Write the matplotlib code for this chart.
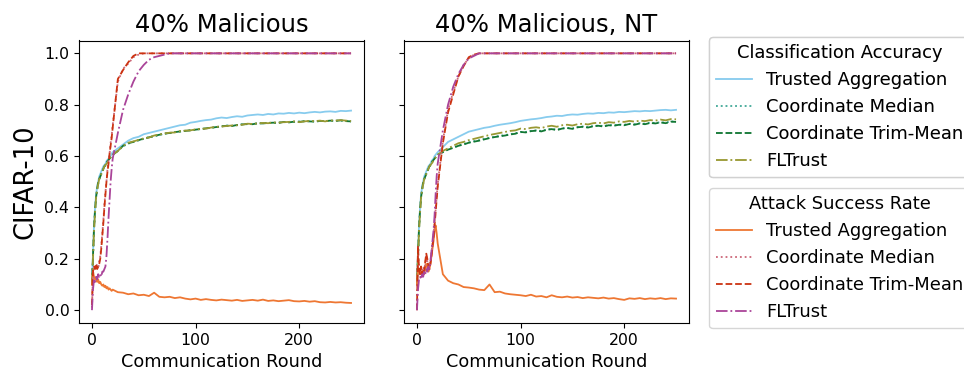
import numpy as np
import matplotlib
matplotlib.use("Agg")
from matplotlib import pyplot as plt

# communication rounds at which values were read
rounds = list(range(0, 21)) + list(range(25, 251, 5))

# ---------------- 40% Malicious ----------------
ta_acc_l = [0.10,0.22,0.33,0.40,0.45,0.48,0.50,0.52,0.53,0.54,0.55,0.56,0.565,0.57,0.58,0.585,0.59,0.60,0.60,0.61,0.615,
            0.63,0.645,0.66,0.67,0.675,0.685,0.69,0.695,0.70,0.705,
            0.71,0.715,0.72,0.722,0.73,0.733,0.737,0.74,0.742,0.747,
            0.75,0.748,0.752,0.755,0.753,0.758,0.76,0.762,0.76,0.764,
            0.762,0.766,0.765,0.768,0.766,0.769,0.767,0.77,0.772,0.77,
            0.773,0.774,0.772,0.776,0.775,0.777]
cm_acc_l = [0.10,0.21,0.31,0.39,0.44,0.47,0.49,0.51,0.52,0.535,0.54,0.55,0.555,0.565,0.575,0.58,0.585,0.59,0.595,0.60,0.605,
            0.62,0.638,0.648,0.656,0.661,0.667,0.674,0.677,0.682,0.688,
            0.689,0.694,0.695,0.699,0.701,0.702,0.706,0.707,0.711,0.712,
            0.715,0.719,0.718,0.72,0.724,0.724,0.725,0.727,0.728,0.73,
            0.729,0.731,0.732,0.732,0.733,0.735,0.735,0.736,0.735,0.736,
            0.737,0.737,0.738,0.738,0.737,0.734]
ctm_acc_l = [0.10,0.21,0.32,0.39,0.44,0.47,0.50,0.51,0.52,0.53,0.54,0.55,0.56,0.565,0.57,0.58,0.585,0.59,0.595,0.60,0.605,
             0.62,0.64,0.65,0.655,0.662,0.668,0.673,0.678,0.683,0.687,
             0.69,0.693,0.696,0.698,0.70,0.703,0.705,0.708,0.71,0.713,
             0.716,0.718,0.717,0.721,0.723,0.725,0.724,0.728,0.727,0.729,
             0.73,0.729,0.733,0.731,0.734,0.733,0.736,0.735,0.734,0.737,
             0.736,0.738,0.737,0.739,0.736,0.735]
flt_acc_l = [0.10,0.20,0.31,0.38,0.44,0.47,0.49,0.51,0.52,0.53,0.54,0.55,0.56,0.565,0.57,0.575,0.585,0.59,0.595,0.60,0.605,
             0.62,0.64,0.652,0.657,0.663,0.669,0.672,0.68,0.684,0.688,
             0.691,0.692,0.697,0.699,0.70,0.704,0.706,0.707,0.711,0.714,
             0.715,0.717,0.719,0.72,0.722,0.726,0.725,0.727,0.729,0.728,
             0.731,0.73,0.732,0.733,0.735,0.732,0.735,0.737,0.736,0.738,
             0.735,0.739,0.738,0.74,0.738,0.736]

ta_asr_l = [0.10,0.15,0.13,0.12,0.125,0.11,0.12,0.105,0.11,0.10,0.095,0.10,0.09,0.095,0.085,0.09,0.08,0.085,0.08,0.075,0.08,
            0.07,0.068,0.062,0.065,0.058,0.06,0.055,0.068,0.052,0.05,
            0.052,0.047,0.05,0.045,0.042,0.045,0.04,0.043,0.04,0.038,
            0.041,0.039,0.037,0.04,0.036,0.038,0.04,0.037,0.041,0.036,
            0.038,0.035,0.037,0.039,0.035,0.034,0.036,0.033,0.035,0.031,
            0.03,0.032,0.03,0.031,0.029,0.028]
cm_asr_l = [0.01,0.14,0.16,0.17,0.17,0.18,0.16,0.19,0.21,0.25,0.30,0.35,0.41,0.46,0.50,0.55,0.58,0.61,0.65,0.68,0.72,
            0.89,0.94,0.96,0.985,0.995] + [1.0] * 41
ctm_asr_l = [0.02,0.15,0.17,0.16,0.18,0.16,0.17,0.18,0.20,0.24,0.29,0.34,0.40,0.45,0.50,0.54,0.57,0.61,0.64,0.67,0.71,
             0.90,0.935,0.965,0.99] + [1.0] * 42
flt_asr_l = [0.0,0.08,0.12,0.11,0.13,0.12,0.14,0.13,0.14,0.13,0.15,0.15,0.16,0.17,0.21,0.28,0.36,0.43,0.50,0.55,0.59,
             0.69,0.78,0.84,0.89,0.93,0.955,0.975,0.985,0.99,0.995] + [1.0] * 36

# ---------------- 40% Malicious, NT ----------------
ta_acc_r = [0.10,0.22,0.33,0.40,0.45,0.48,0.50,0.52,0.53,0.54,0.55,0.56,0.565,0.57,0.58,0.585,0.59,0.60,0.605,0.61,0.615,
            0.635,0.655,0.665,0.675,0.685,0.695,0.70,0.705,0.71,0.713,
            0.718,0.722,0.725,0.728,0.732,0.737,0.74,0.743,0.745,0.748,
            0.752,0.754,0.757,0.756,0.76,0.762,0.761,0.764,0.766,0.765,
            0.768,0.767,0.77,0.769,0.772,0.771,0.773,0.775,0.774,0.776,
            0.775,0.777,0.779,0.78,0.778,0.78]
cm_acc_r = [0.10,0.21,0.31,0.39,0.44,0.47,0.49,0.51,0.52,0.535,0.54,0.55,0.555,0.565,0.575,0.58,0.585,0.59,0.595,0.60,0.605,
            0.617,0.627,0.634,0.641,0.647,0.653,0.658,0.662,0.667,0.671,
            0.675,0.679,0.682,0.685,0.689,0.693,0.694,0.698,0.70,0.698,
            0.703,0.706,0.703,0.708,0.71,0.708,0.713,0.715,0.713,0.717,
            0.719,0.717,0.721,0.72,0.723,0.722,0.726,0.724,0.728,0.726,
            0.73,0.729,0.732,0.73,0.735,0.734]
ctm_acc_r = [0.10,0.21,0.32,0.39,0.44,0.47,0.50,0.51,0.52,0.53,0.54,0.55,0.56,0.565,0.57,0.58,0.585,0.59,0.595,0.60,0.605,
             0.615,0.625,0.632,0.64,0.645,0.652,0.656,0.66,0.665,0.67,
             0.674,0.677,0.68,0.684,0.687,0.694,0.692,0.697,0.699,0.696,
             0.702,0.705,0.701,0.707,0.709,0.706,0.712,0.714,0.711,0.716,
             0.718,0.715,0.72,0.718,0.722,0.72,0.725,0.722,0.727,0.724,
             0.729,0.727,0.731,0.728,0.734,0.733]
flt_acc_r = [0.10,0.20,0.31,0.38,0.44,0.47,0.49,0.51,0.52,0.53,0.54,0.55,0.56,0.565,0.57,0.575,0.585,0.59,0.595,0.60,0.605,
             0.62,0.63,0.64,0.65,0.655,0.662,0.667,0.672,0.677,0.682,
             0.686,0.69,0.694,0.698,0.70,0.707,0.705,0.71,0.712,0.709,
             0.715,0.718,0.714,0.72,0.722,0.719,0.724,0.726,0.723,0.728,
             0.73,0.727,0.732,0.73,0.735,0.733,0.737,0.734,0.738,0.736,
             0.74,0.738,0.742,0.739,0.744,0.743]

ta_asr_r = [0.10,0.17,0.15,0.14,0.15,0.14,0.15,0.14,0.16,0.18,0.17,0.15,0.16,0.18,0.21,0.24,0.27,0.31,0.33,0.30,0.26,
            0.14,0.115,0.105,0.10,0.09,0.088,0.085,0.08,0.078,0.10,
            0.07,0.072,0.065,0.062,0.06,0.058,0.055,0.06,0.053,0.055,
            0.05,0.058,0.052,0.05,0.053,0.049,0.051,0.047,0.05,0.048,
            0.046,0.049,0.045,0.047,0.043,0.04,0.046,0.044,0.047,0.043,
            0.046,0.044,0.047,0.043,0.046,0.045]
cm_asr_r = [0.0,0.22,0.17,0.15,0.16,0.15,0.17,0.16,0.18,0.21,0.19,0.18,0.17,0.19,0.22,0.26,0.29,0.34,0.39,0.44,0.49,
            0.66,0.78,0.85,0.91,0.955,0.98,0.995] + [1.0] * 39
ctm_asr_r = [0.0,0.25,0.16,0.14,0.17,0.14,0.16,0.15,0.19,0.22,0.20,0.17,0.16,0.18,0.21,0.25,0.28,0.33,0.38,0.43,0.48,
             0.65,0.77,0.84,0.91,0.95,0.985,0.995] + [1.0] * 39
flt_asr_r = [0.0,0.08,0.12,0.13,0.12,0.14,0.13,0.15,0.14,0.16,0.15,0.17,0.16,0.19,0.23,0.27,0.31,0.37,0.45,0.52,0.57,
             0.70,0.80,0.87,0.92,0.955,0.98,0.99] + [1.0] * 39

methods = ["Trusted Aggregation", "Coordinate Median", "Coordinate Trim-Mean", "FLTrust"]
styles = ["-", ":", "--", "-."]
acc_colors = ["#88CCEE", "#44AA99", "#117733", "#999933"]
asr_colors = ["#EE7733", "#CC6677", "#CC3311", "#AA4499"]

panels = [
    ("40% Malicious", [ta_acc_l, cm_acc_l, ctm_acc_l, flt_acc_l], [ta_asr_l, cm_asr_l, ctm_asr_l, flt_asr_l]),
    ("40% Malicious, NT", [ta_acc_r, cm_acc_r, ctm_acc_r, flt_acc_r], [ta_asr_r, cm_asr_r, ctm_asr_r, flt_asr_r]),
]

fig = plt.figure(figsize=(9.64, 3.71), dpi=100)
ax1 = fig.add_axes([79/964, 48/371, 285/964, 282.5/371])
ax2 = fig.add_axes([404/964, 48/371, 285/964, 282.5/371], sharey=ax1)

lw = 1.3
for ax, (title, accs, asrs) in zip([ax1, ax2], panels):
    acc_h, asr_h = [], []
    for i in range(4):
        h, = ax.plot(rounds, accs[i], styles[i], color=acc_colors[i], lw=lw, label=methods[i])
        acc_h.append(h)
    for i in range(4):
        h, = ax.plot(rounds, asrs[i], styles[i], color=asr_colors[i], lw=lw, label=methods[i])
        asr_h.append(h)
    ax.set_title(title, fontsize=17.5)
    ax.set_xlabel("Communication Round", fontsize=12.7)
    ax.tick_params(labelsize=11.3)
    ax.set_xticks([0, 100, 200])

ax1.set_yticks([0.0, 0.2, 0.4, 0.6, 0.8, 1.0])
ax1.set_ylabel("CIFAR-10", fontsize=18.5)
ax2.tick_params(labelleft=False)

# two legends stacked on the right; the box runs off the right edge like the original
leg1 = fig.legend(handles=acc_h, labels=methods, title="Classification Accuracy",
                  loc="upper left", bbox_to_anchor=(709/964, 1 - 37/371), borderaxespad=0,
                  fontsize=12.9, title_fontsize=12.9)
fig.add_artist(leg1)
fig.legend(handles=asr_h, labels=methods, title="Attack Success Rate",
           loc="upper left", bbox_to_anchor=(709/964, 1 - 188/371), borderaxespad=0,
           fontsize=12.9, title_fontsize=12.9)

fig.savefig("out.png", dpi=100)
